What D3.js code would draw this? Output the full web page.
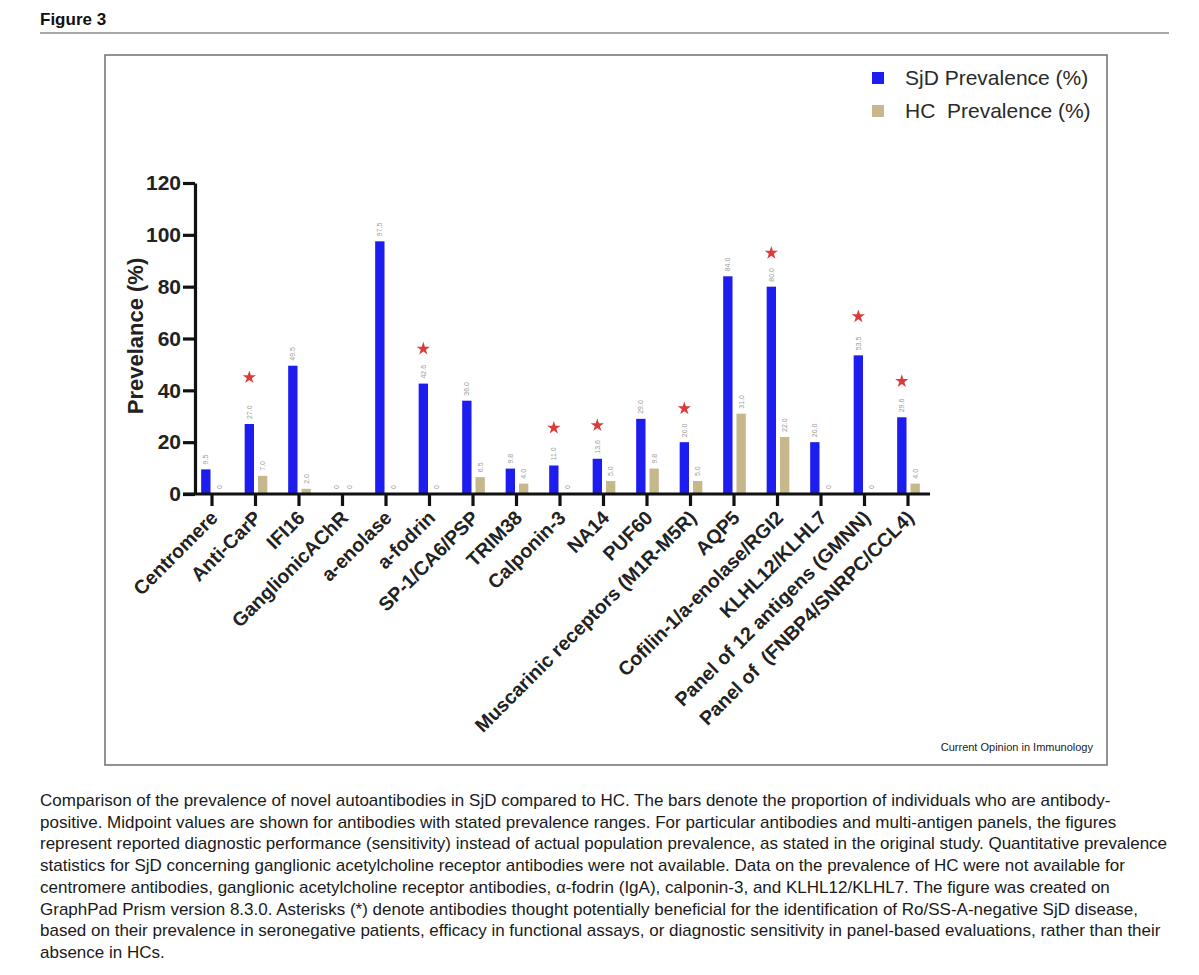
<!DOCTYPE html>
<html>
<head>
<meta charset="utf-8">
<script src="https://cdn.jsdelivr.net/npm/d3@7"></script>
<style>
  body { margin: 0; background: #fff; }
  svg { display: block; font-family: "Liberation Sans", Arial, Helvetica, sans-serif; }
</style>
</head>
<body>
<div id="chart"></div>
<script>
const categories = [
  "Centromere", "Anti-CarP", "IFI16", "GanglionicAChR", "a-enolase", "a-fodrin",
  "SP-1/CA6/PSP", "TRIM38", "Calponin-3", "NA14", "PUF60",
  "Muscarinic receptors (M1R-M5R)", "AQP5", "Cofilin-1/a-enolase/RGI2",
  "KLHL12/KLHL7", "Panel of 12 antigens (GMNN)", "Panel of  (FNBP4/SNRPC/CCL4)"
];
const sjdValues = [9.5, 27.0, 49.5, 0, 97.5, 42.6, 36.0, 9.8, 11.0, 13.6, 29.0, 20.0, 84.0, 80.0, 20.0, 53.5, 29.6];
const hcValues  = [0, 7.0, 2.0, 0, 0, 0, 6.5, 4.0, 0, 5.0, 9.8, 5.0, 31.0, 22.0, 0, 0, 4.0];
// asterisk marks (category, level on the y axis where the star sits)
const starCategories = ["Anti-CarP", "a-fodrin", "Calponin-3", "NA14", "Muscarinic receptors (M1R-M5R)",
  "Cofilin-1/a-enolase/RGI2", "Panel of 12 antigens (GMNN)", "Panel of  (FNBP4/SNRPC/CCL4)"];
const starLevels = [45, 56, 25.5, 26.5, 33, 93, 68.5, 43.5];
const yTicks = [0, 20, 40, 60, 80, 100, 120];
const seriesNames = ["SjD Prevalence (%)", "HC  Prevalence (%)"];
const captionLines = [
  "Comparison of the prevalence of novel autoantibodies in SjD compared to HC. The bars denote the proportion of individuals who are antibody-",
  "positive. Midpoint values are shown for antibodies with stated prevalence ranges. For particular antibodies and multi-antigen panels, the figures",
  "represent reported diagnostic performance (sensitivity) instead of actual population prevalence, as stated in the original study. Quantitative prevalence",
  "statistics for SjD concerning ganglionic acetylcholine receptor antibodies were not available. Data on the prevalence of HC were not available for",
  "centromere antibodies, ganglionic acetylcholine receptor antibodies, \u03b1-fodrin (IgA), calponin-3, and KLHL12/KLHL7. The figure was created on",
  "GraphPad Prism version 8.3.0. Asterisks (*) denote antibodies thought potentially beneficial for the identification of Ro/SS-A-negative SjD disease,",
  "based on their prevalence in seronegative patients, efficacy in functional assays, or diagnostic sensitivity in panel-based evaluations, rather than their",
  "absence in HCs."
];

const data = categories.map((c, i) => ({ cat: c, SjD: sjdValues[i], HC: hcValues[i] }));
const keys = ["SjD", "HC"];
const colors = { SjD: "#1d1def", HC: "#c6b88a" };

const svgWidth = 1199, svgHeight = 975;
const svg = d3.select("#chart").append("svg")
  .attr("width", svgWidth)
  .attr("height", svgHeight);

// header
svg.append("text").attr("x", 40).attr("y", 25)
  .attr("font-size", 17).attr("font-weight", "bold").attr("fill", "#111")
  .text("Figure 3");
svg.append("line").attr("x1", 40).attr("x2", 1169).attr("y1", 33).attr("y2", 33)
  .attr("stroke", "#a8a8a8").attr("stroke-width", 2);

// figure frame
svg.append("rect").attr("x", 105).attr("y", 55).attr("width", 1002).attr("height", 710)
  .attr("fill", "none").attr("stroke", "#777").attr("stroke-width", 1.6);

const axisX = 195;
const x = d3.scaleBand().domain(categories).range([190.25, 929.75]);
const x1 = d3.scaleBand().domain(keys).range([-11.5, 12.5]).paddingInner(0.3).paddingOuter(0.05);
const y = d3.scaleLinear().domain([0, 120]).range([494, 183]);
const cx = (c) => x(c) + x.bandwidth() / 2;

// bars
const groups = svg.append("g").selectAll("g")
  .data(data).enter().append("g")
  .attr("transform", (d) => `translate(${cx(d.cat)},0)`);

groups.selectAll("rect")
  .data((d) => keys.map((k) => ({ key: k, value: d[k] })))
  .enter().append("rect")
  .attr("x", (d) => x1(d.key))
  .attr("width", x1.bandwidth())
  .attr("y", (d) => y(d.value))
  .attr("height", (d) => y(0) - y(d.value))
  .attr("fill", (d) => colors[d.key]);

// value labels
groups.selectAll("text.val")
  .data((d) => keys.map((k) => ({ key: k, value: d[k] })))
  .enter().append("text")
  .attr("class", "val")
  .attr("transform", (d) => `translate(${x1(d.key) + x1.bandwidth() / 2 + 2.5},${y(d.value) - 5}) rotate(-90)`)
  .attr("font-size", 7)
  .attr("fill", "#9a9a9a")
  .text((d) => d.value === 0 ? "0" : d3.format(".1f")(d.value));

// asterisks
svg.append("g").selectAll("path")
  .data(starCategories.map((c, i) => ({ cat: c, level: starLevels[i] })))
  .enter().append("path")
  .attr("d", d3.symbol(d3.symbolStar, 55))
  .attr("transform", (d) => `translate(${cx(d.cat) + x1("SjD") + x1.bandwidth() / 2},${y(d.level)})`)
  .attr("fill", "#dc3b3b");

// y axis
const yAxis = svg.append("g")
  .attr("transform", `translate(${axisX},0)`)
  .call(d3.axisLeft(y).tickValues(yTicks).tickSize(12).tickPadding(2).tickSizeOuter(0));
yAxis.select(".domain").attr("stroke-width", 3.2).attr("stroke", "#111");
yAxis.selectAll(".tick line").attr("stroke-width", 3.2).attr("stroke", "#111");
yAxis.selectAll(".tick text").attr("font-size", 21).attr("font-weight", "bold")
  .attr("fill", "#222").attr("font-family", "Liberation Sans, Arial, sans-serif");

// x axis
const xAxisG = svg.append("g").attr("transform", `translate(0,${y(0)})`);
xAxisG.append("line").attr("x1", axisX - 12).attr("x2", 930).attr("y1", 0).attr("y2", 0)
  .attr("stroke", "#111").attr("stroke-width", 3.2);
xAxisG.selectAll("line.tk").data(categories).enter().append("line")
  .attr("class", "tk")
  .attr("x1", cx).attr("x2", cx).attr("y1", 0).attr("y2", 12)
  .attr("stroke", "#111").attr("stroke-width", 3.2);
xAxisG.selectAll("text").data(categories).enter().append("text")
  .attr("transform", (c) => `translate(${cx(c) + 7},${25}) rotate(-45)`)
  .attr("text-anchor", "end")
  .attr("font-size", 19.5)
  .attr("font-weight", "bold")
  .attr("fill", "#222")
  .attr("xml:space", "preserve")
  .style("white-space", "pre")
  .text((c) => c);

// y title
svg.append("text")
  .attr("transform", `translate(143,336) rotate(-90)`)
  .attr("text-anchor", "middle")
  .attr("font-size", 22).attr("font-weight", "bold").attr("fill", "#222")
  .text("Prevelance (%)");

// legend
const legend = svg.append("g").selectAll("g")
  .data(keys).enter().append("g")
  .attr("transform", (d, i) => `translate(872,${72 + i * 33})`);
legend.append("rect").attr("width", 12).attr("height", 12).attr("fill", (d) => colors[d]);
legend.append("text").attr("x", 33).attr("y", 13)
  .attr("font-size", 21).attr("fill", "#2a2a2a")
  .attr("xml:space", "preserve").style("white-space", "pre")
  .text((d, i) => seriesNames[i]);

// source
svg.append("text").attr("x", 1093).attr("y", 751).attr("text-anchor", "end")
  .attr("font-size", 11).attr("fill", "#222")
  .text("Current Opinion in Immunology");

// caption
svg.append("g").selectAll("text")
  .data(captionLines).enter().append("text")
  .attr("x", 40)
  .attr("y", (d, i) => 806 + i * 21.7)
  .attr("font-size", 17)
  .attr("fill", "#1a1a1a")
  .text((d) => d);
</script>
</body>
</html>
